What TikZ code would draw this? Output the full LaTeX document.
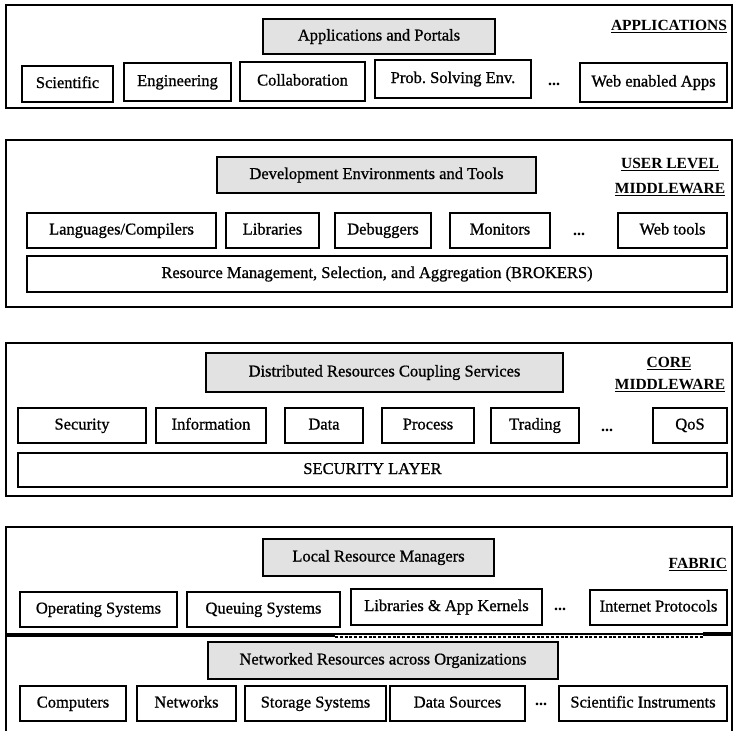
\documentclass[tikz,border=0pt]{standalone}
\usepackage{fontspec}
\setmainfont{Liberation Serif}
\newfontfamily\cellfont{Liberation Serif}[FakeBold=0.9]
\definecolor{headgray}{RGB}{226,226,226}
% \gridtile[style]{x1}{y1}{x2}{y2}{name}{text}: a box given by its corners
\newcommand\gridtile[7][cell]{%
  \node[#1, minimum width={#4-#2}, minimum height={#5-#3}] (#6)
    at ({(#2+#4)/2},{(#3+#5)/2}) {#7};}
\begin{document}
\begin{tikzpicture}[x=1pt,y=-1pt,
  frame/.style={draw, line width=1.8pt, inner sep=0pt},
  cell/.style={draw, line width=1.4pt, inner sep=0pt,
    text height=11.5pt, text depth=3.5pt,
    font=\cellfont\fontsize{16.5}{18}\selectfont},
  head/.style={cell, fill=headgray},
  tag/.style={font=\fontsize{15.5}{17}\selectfont\bfseries, inner sep=0pt, outer sep=0pt},
  rule/.style={line width=1.3pt},
  more/.style={font=\fontsize{16}{18}\selectfont\bfseries, inner sep=0pt}]
\useasboundingbox (0,0) rectangle (734,731);

% ---------------- Applications ----------------
\gridtile[frame]{6}{5}{732}{108}{appframe}{}
\gridtile[head]{263}{19}{495}{54}{portals}{Applications and Portals}
\gridtile{22}{66}{113}{102}{sci}{Scientific}
\gridtile{124}{63}{231}{101}{eng}{Engineering}
\gridtile{240}{62}{365}{101}{collab}{Collaboration}
\gridtile{375}{60}{531}{98}{pse}{Prob.\ Solving Env.}
\node[more] (appdots) at (554,84) {...};
\gridtile{580}{63}{727}{102}{webapps}{Web enabled Apps}
\node[tag, anchor=base east] (apptag) at (727,30) {APPLICATIONS};
\draw[rule] ([yshift=-2.5pt]apptag.base west) -- ([yshift=-2.5pt]apptag.base east);

% ---------------- User level middleware ----------------
\gridtile[frame]{6}{140}{732}{307}{userframe}{}
\gridtile[head]{217}{157}{536}{193}{devtools}{Development Environments and Tools}
\gridtile{27}{213}{216}{248}{lang}{Languages/Compilers}
\gridtile{226}{213}{319}{248}{libs}{Libraries}
\gridtile{335}{213}{431}{248}{debug}{Debuggers}
\gridtile{450}{213}{550}{248}{mon}{Monitors}
\node[more] (userdots) at (579,234) {...};
\gridtile{618}{213}{727}{248}{webtools}{Web tools}
\gridtile{27}{256}{727}{292}{brokers}{Resource Management, Selection, and Aggregation (BROKERS)}
\node[tag, anchor=base] (usertag) at (670,168) {USER LEVEL};
\node[tag, anchor=base] (umwtag) at (670,193) {MIDDLEWARE};
\draw[rule] ([yshift=-2.5pt]usertag.base west) -- ([yshift=-2.5pt]usertag.base east);
\draw[rule] ([yshift=-2.5pt]umwtag.base west) -- ([yshift=-2.5pt]umwtag.base east);

% ---------------- Core middleware ----------------
\gridtile[frame]{6}{343}{732}{496}{coreframe}{}
\gridtile[head]{206}{353}{563}{392}{coupling}{Distributed Resources Coupling Services}
\gridtile{18}{408}{146}{443}{sec}{Security}
\gridtile{156}{408}{266}{443}{info}{Information}
\gridtile{285}{408}{363}{443}{data}{Data}
\gridtile{382}{408}{474}{443}{proc}{Process}
\gridtile{491}{408}{579}{443}{trade}{Trading}
\node[more] (coredots) at (607,430) {...};
\gridtile{653}{408}{727}{443}{qos}{QoS}
\gridtile{18}{453}{727}{487}{seclayer}{SECURITY LAYER}
\node[tag, anchor=base] (coretag) at (669,367) {CORE};
\node[tag, anchor=base] (cmwtag) at (670,389) {MIDDLEWARE};
\draw[rule] ([yshift=-2.5pt]coretag.base west) -- ([yshift=-2.5pt]coretag.base east);
\draw[rule] ([yshift=-2.5pt]cmwtag.base west) -- ([yshift=-2.5pt]cmwtag.base east);

% ---------------- Fabric (open at the bottom) ----------------
\draw[line width=1.8pt] (6,731) -- (6,527) -- (732,527) -- (732,731);
\gridtile[head]{263}{539}{494}{576}{lrm}{Local Resource Managers}
\gridtile{20}{592}{177}{627}{os}{Operating Systems}
\gridtile{187}{592}{340}{627}{queue}{Queuing Systems}
\gridtile{351}{589}{542}{625}{kernels}{Libraries \& App Kernels}
\node[more] (fabdots) at (560,609) {...};
\gridtile{590}{590}{727}{625}{inet}{Internet Protocols}
\node[tag, anchor=base east] (fabtag) at (727,568) {FABRIC};
\draw[rule] ([yshift=-2.5pt]fabtag.base west) -- ([yshift=-2.5pt]fabtag.base east);

% divider between local managers and networked resources
\draw[line width=3.5pt] (6,635) -- (335,635);
\draw[line width=2pt] (335,633.5) -- (703,633.5);
\draw[line width=2pt, dash pattern=on 3pt off 1.8pt] (335,637) -- (703,637);
\draw[line width=4pt] (703,634) -- (732,634);

\gridtile[head]{208}{642}{558}{679}{netres}{Networked Resources across Organizations}
\gridtile{20}{686}{126}{721}{comp}{Computers}
\gridtile{137}{686}{236}{721}{nets}{Networks}
\gridtile{245}{686}{386}{721}{storage}{Storage Systems}
\gridtile{390}{686}{525}{721}{sources}{Data Sources}
\node[more] (netdots) at (541,704) {...};
\gridtile{559}{686}{727}{721}{instr}{Scientific Instruments}
\end{tikzpicture}
\end{document}
